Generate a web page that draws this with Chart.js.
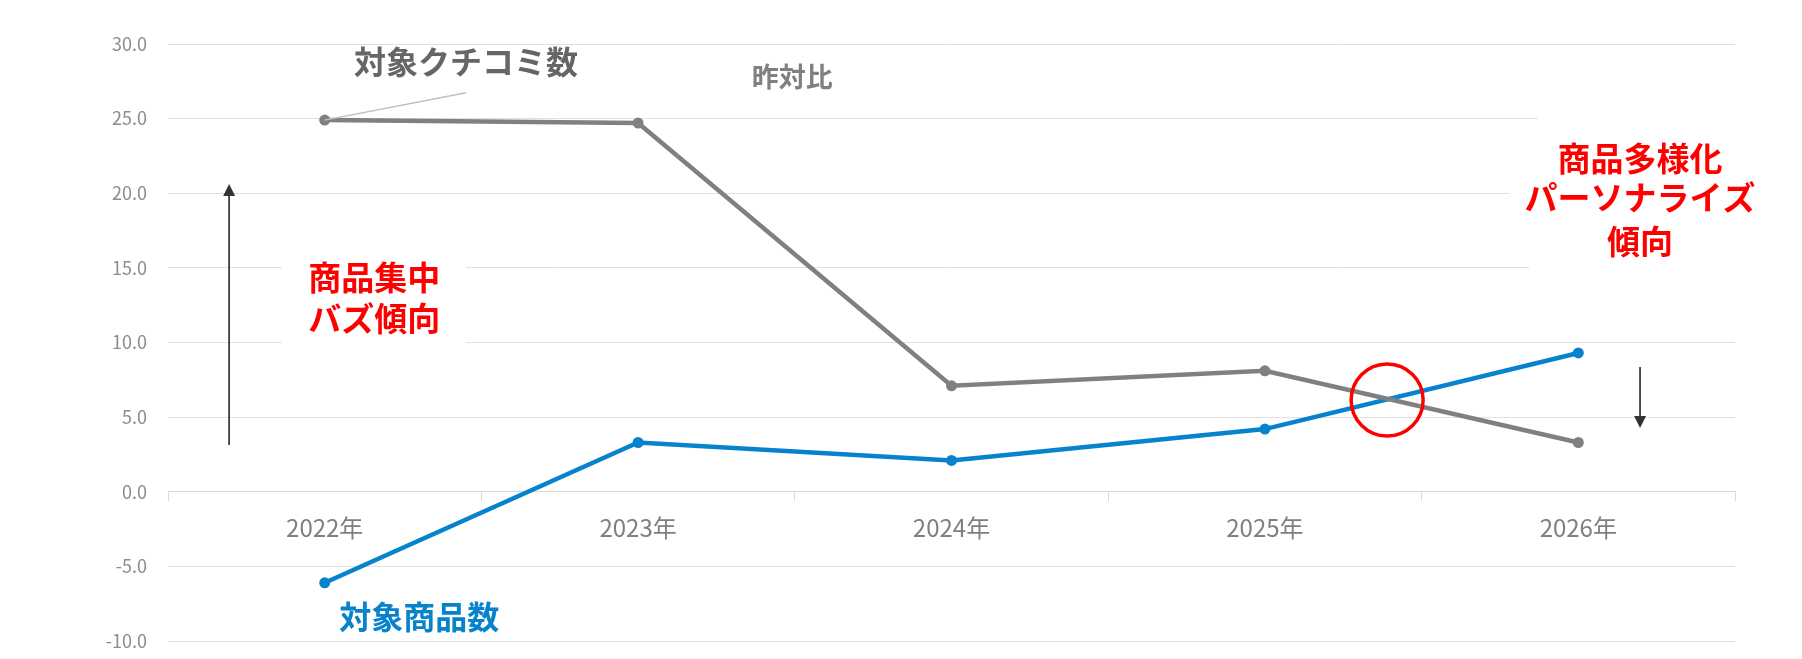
<!DOCTYPE html>
<html lang="ja">
<head>
<meta charset="utf-8">
<script src="https://cdn.jsdelivr.net/npm/chart.js@4.4.1/dist/chart.umd.min.js"></script>
<style>
  html, body { margin: 0; padding: 0; background: #ffffff; }
  #wrap { width: 1802px; height: 659px; }
</style>
</head>
<body>
<div id="wrap"><canvas id="c" width="1802" height="659"></canvas></div>
<script>
// ---- data ----
const categories = ['2022年', '2023年', '2024年', '2025年', '2026年'];
const kuchikomiYoY = [24.9, 24.7, 7.1, 8.1, 3.3];   // 対象クチコミ数 (昨対比)
const productsYoY  = [-6.1, 3.3, 2.1, 4.2, 9.3];    // 対象商品数 (昨対比)
const yMin = -10;
const yMax = 30;
const yStep = 5;

const FONT = '"Noto Sans CJK JP", "Noto Sans", sans-serif';
const GRAY = '#808080';
const BLUE = '#0683cc';
const RED = '#ff0000';

// annotation plugin: everything anchored in data space (category index, value)
const annotate = {
  id: 'annotate',
  beforeDatasetsDraw(chart) {
    const {ctx, scales: {x, y}} = chart;
    const X = v => x.getPixelForValue(v);
    const Y = v => y.getPixelForValue(v);
    ctx.save();
    ctx.fillStyle = '#ffffff';
    // white text-box backgrounds hiding gridlines
    const rect = (i0, i1, v0, v1) => {
      const x0 = X(i0), x1 = X(i1), y0 = Y(v0), y1 = Y(v1);
      ctx.fillRect(x0, y0, x1 - x0, y1 - y0);
    };
    rect(-0.136, 0.451, 15.9, 9.5);
    rect(3.872, 4.6, 25.4, 24.5);
    rect(3.780, 4.6, 20.4, 19.5);
    rect(3.843, 4.6, 15.4, 14.5);
    ctx.restore();
  },
  afterDatasetsDraw(chart) {
    const {ctx, scales: {x, y}} = chart;
    const X = v => x.getPixelForValue(v);
    const Y = v => y.getPixelForValue(v);
    ctx.save();

    // leader line from first 対象クチコミ数 point
    ctx.strokeStyle = '#bfbfbf';
    ctx.lineWidth = 1.5;
    ctx.beginPath();
    ctx.moveTo(X(0), Y(kuchikomiYoY[0]));
    ctx.lineTo(X(0.451), Y(26.74));
    ctx.stroke();

    const text = (str, i, v, size, color) => {
      ctx.font = 'bold ' + size + 'px ' + FONT;
      ctx.fillStyle = color;
      ctx.textAlign = 'center';
      ctx.textBaseline = 'middle';
      ctx.fillText(str, X(i), Y(v));
    };
    text('対象クチコミ数', 0.451, 28.83, 32, '#666666');
    text('昨対比', 1.492, 27.83, 27, '#808080');
    text('商品集中', 0.158, 14.39, 33, RED);
    text('バズ傾向', 0.158, 11.64, 33, RED);
    text('商品多様化', 4.197, 22.3, 33, RED);
    text('パーソナライズ', 4.197, 19.7, 33, RED);
    text('傾向', 4.197, 16.75, 33, RED);
    text('対象商品数', 0.302, -8.4, 32, BLUE);

    // arrows
    const arrow = (i, vFrom, vTo) => {
      const ax = X(i), y0 = Y(vFrom), y1 = Y(vTo);
      const dir = Math.sign(y1 - y0);
      const head = 12;
      ctx.strokeStyle = '#333333';
      ctx.fillStyle = '#333333';
      ctx.lineWidth = 1.7;
      ctx.beginPath();
      ctx.moveTo(ax, y0);
      ctx.lineTo(ax, y1 - dir * head);
      ctx.stroke();
      ctx.beginPath();
      ctx.moveTo(ax, y1);
      ctx.lineTo(ax - 6, y1 - dir * head);
      ctx.lineTo(ax + 6, y1 - dir * head);
      ctx.closePath();
      ctx.fill();
    };
    arrow(-0.305, 3.13, 20.62);
    arrow(4.197, 8.36, 4.27);

    // red circle at the crossing
    ctx.strokeStyle = RED;
    ctx.lineWidth = 3.5;
    ctx.beginPath();
    ctx.arc(X(3.39), Y(6.15), 36, 0, Math.PI * 2);
    ctx.stroke();

    ctx.restore();
  }
};

new Chart(document.getElementById('c'), {
  type: 'line',
  data: {
    labels: categories,
    datasets: [
      {
        label: '対象クチコミ数',
        data: kuchikomiYoY,
        borderColor: GRAY,
        backgroundColor: GRAY,
        borderWidth: 4.5,
        pointRadius: 5.5,
        pointBorderWidth: 0,
        pointBackgroundColor: GRAY,
        tension: 0
      },
      {
        label: '対象商品数',
        data: productsYoY,
        borderColor: BLUE,
        backgroundColor: BLUE,
        borderWidth: 4.5,
        pointRadius: 5.5,
        pointBorderWidth: 0,
        pointBackgroundColor: BLUE,
        tension: 0
      }
    ]
  },
  options: {
    responsive: false,
    animation: false,
    devicePixelRatio: 1,
    layout: { padding: { left: 0, right: 67, top: 44, bottom: 18 } },
    plugins: {
      legend: { display: false },
      tooltip: { enabled: false },
      title: { display: false }
    },
    scales: {
      y: {
        min: yMin,
        max: yMax,
        ticks: {
          stepSize: yStep,
          padding: 21,
          color: '#8c8c8c',
          font: { size: 18, family: FONT },
          callback: v => Number(v).toFixed(1)
        },
        grid: { color: '#e0e0e0', lineWidth: 1, drawTicks: false },
        border: { display: false },
        afterFit: s => { s.width = 168; s.paddingTop = 10; s.paddingBottom = 10; }
      },
      x: {
        type: 'category',
        position: { y: 0 },
        offset: true,
        grid: {
          display: true,
          drawOnChartArea: false,
          drawTicks: true,
          tickLength: 9,
          offset: true,
          color: '#d9d9d9',
          lineWidth: 1
        },
        border: { display: true, color: '#d9d9d9', width: 1 },
        ticks: {
          color: '#7f7f7f',
          font: { size: 24, family: FONT },
          padding: 13,
          maxRotation: 0,
          autoSkip: false
        },
        afterFit: s => { s.height = 0; }
      }
    }
  },
  plugins: [annotate]
});
</script>
</body>
</html>
